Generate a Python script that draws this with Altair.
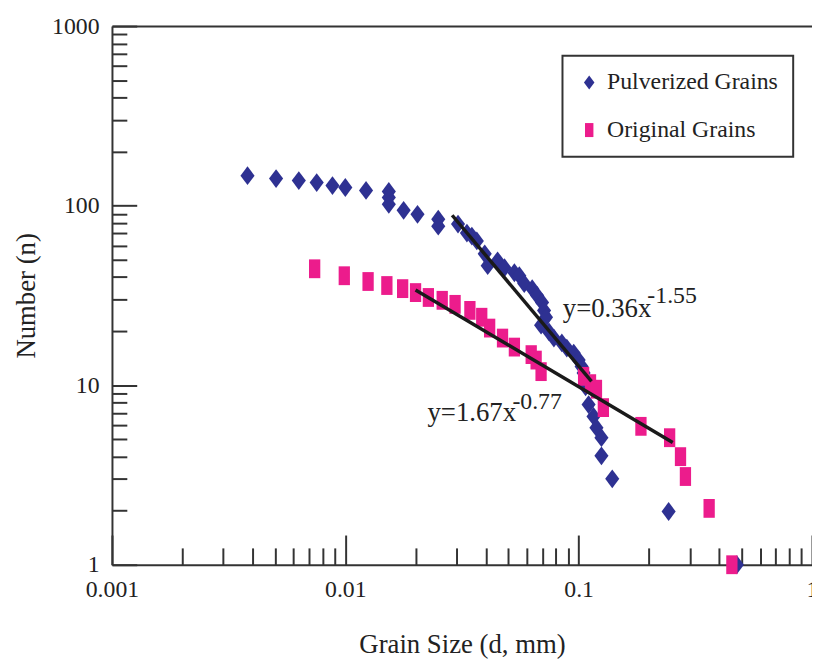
import altair as alt
import pandas as pd

FONT = "Liberation Serif"
BLUE = "#2e3192"
PINK = "#ec1c8c"
INK = "#222222"
AXIS = "#333333"

series_names = ["Pulverized Grains", "Original Grains"]

# Pulverized grains (blue diamonds): grain size d (mm), number n
blue_x = [0.00381, 0.00505, 0.00632, 0.00754, 0.00881, 0.0100, 0.01227, 0.01536,
          0.01536, 0.01536, 0.01778, 0.02039, 0.02502, 0.02502, 0.03041, 0.03320,
          0.03486, 0.03661, 0.03958, 0.04076, 0.04493, 0.04812, 0.05304, 0.05569,
          0.05846, 0.06322, 0.06637, 0.06969, 0.07107, 0.07247, 0.06902, 0.07462,
          0.07834, 0.08472, 0.08896, 0.09524, 0.1000, 0.1030, 0.1050, 0.1071,
          0.1103, 0.1158, 0.1192, 0.1252, 0.1252, 0.1393, 0.2430, 0.4764]
blue_y = [146.9, 141.5, 137.9, 134.4, 129.4, 126.2, 121.5, 119.9,
          111.1, 101.7, 94.2, 89.5, 84.0, 76.9, 78.9, 70.3,
          67.7, 63.6, 53.9, 46.3, 49.3, 45.1, 42.3, 40.7,
          36.8, 34.5, 31.6, 28.9, 26.1, 23.9, 21.6, 19.8,
          18.3, 17.2, 16.1, 15.1, 13.8, 12.7, 11.7, 9.8,
          7.8, 6.7, 5.8, 5.1, 4.04, 3.01, 1.98, 1.0]

# Original grains (pink squares)
pink_x = [0.00739, 0.00990, 0.01252, 0.01507, 0.01761, 0.0200, 0.0227, 0.02602,
          0.02954, 0.03419, 0.03843, 0.04155, 0.04718, 0.05304, 0.06261, 0.06573,
          0.06902, 0.1050, 0.1124, 0.1192, 0.1276, 0.1849, 0.2454, 0.2732,
          0.2868, 0.3624, 0.4536]
pink_y = [44.5, 40.7, 37.8, 35.9, 34.5, 32.8, 30.8, 29.7,
          28.2, 26.1, 23.9, 20.8, 18.3, 16.3, 14.8, 13.8,
          11.9, 11.2, 10.2, 9.5, 7.5, 5.9, 5.1, 4.0,
          3.1, 2.06, 1.0]

# Power-law fit lines (end points)
fit_names = ["blue", "blue", "pink", "pink"]
fit_x = [0.0287, 0.1135, 0.0200, 0.253]
fit_y = [88.4, 10.5, 33.9, 4.8]

# Equation annotations
ann_text = ["y=0.36x", "y=1.67x"]
ann_x = [0.0855, 0.0225]
ann_y = [23.9, 6.31]
sup_text = ["-1.55", "-0.77"]
sup_x = [0.197, 0.0520]
sup_y = [28.6, 7.34]

# Axis tick values
x_major = [0.001, 0.01, 0.1, 1]
x_minor = [0.002, 0.003, 0.004, 0.005, 0.006, 0.007, 0.008, 0.009,
           0.02, 0.03, 0.04, 0.05, 0.06, 0.07, 0.08, 0.09,
           0.2, 0.3, 0.4, 0.5, 0.6, 0.7, 0.8, 0.9]
y_major = [1, 10, 100, 1000]
y_minor = [2, 3, 4, 5, 6, 7, 8, 9,
           20, 30, 40, 50, 60, 70, 80, 90,
           200, 300, 400, 500, 600, 700, 800, 900]

W, H = 707, 544

pts = pd.DataFrame({
    "x": blue_x + pink_x,
    "y": blue_y + pink_y,
    "series": [series_names[0]] * len(blue_x) + [series_names[1]] * len(pink_x),
})
fits = pd.DataFrame({"x": fit_x, "y": fit_y, "fit": fit_names})
ann = pd.DataFrame({"x": ann_x, "y": ann_y, "t": ann_text})
sup = pd.DataFrame({"x": sup_x, "y": sup_y, "t": sup_text})

xs = alt.Scale(type="log", domain=[0.001, 1], nice=False)
ys = alt.Scale(type="log", domain=[1, 1000], nice=False)

DIAMOND = "M0,-1L0.75,0L0,1L-0.75,0Z"
RECT = "M-0.6,-1L0.6,-1L0.6,1L-0.6,1Z"

legend = alt.Legend(
    title=None, orient="none", legendX=455, legendY=30,
    labelFont=FONT, labelFontSize=24, labelColor=INK, labelLimit=400,
    padding=15, rowPadding=24, strokeColor=AXIS, fillColor="white",
    symbolSize=200, symbolStrokeWidth=0, labelOffset=6,
)

points = alt.Chart(pts).mark_point(filled=True, opacity=1, strokeWidth=0, size=361).encode(
    x=alt.X("x:Q", scale=xs, axis=alt.Axis(
        orient="bottom", values=x_major, format="~g", ticks=False, tickSize=0,
        domain=True, domainColor=AXIS, domainWidth=2, grid=False,
        labelFont=FONT, labelFontSize=24, labelColor=INK, labelPadding=13,
        labelFlush=False, labelOverlap=False,
        title="Grain Size (d, mm)", titleFont=FONT, titleFontSize=27,
        titleFontWeight="normal", titleColor=INK, titlePadding=31)),
    y=alt.Y("y:Q", scale=ys, axis=alt.Axis(
        orient="left", values=y_major, format="~g", ticks=False, tickSize=0,
        domain=True, domainColor=AXIS, domainWidth=2, grid=False,
        labelFont=FONT, labelFontSize=24, labelColor=INK, labelPadding=13,
        labelFlush=False, labelOverlap=False,
        title="Number (n)", titleFont=FONT, titleFontSize=27,
        titleFontWeight="normal", titleColor=INK, titlePadding=11)),
    color=alt.Color("series:N", scale=alt.Scale(domain=series_names, range=[BLUE, PINK]), legend=legend),
    shape=alt.Shape("series:N", scale=alt.Scale(domain=series_names, range=[DIAMOND, RECT]), legend=legend),
)

lines = alt.Chart(fits).mark_line(color="#1a1a1a", strokeWidth=3.5).encode(
    x=alt.X("x:Q", scale=xs, axis=alt.Axis(
        orient="top", offset=-H, values=x_major, ticks=True, tickSize=30,
        tickWidth=2, tickColor=AXIS, labels=False, domain=False, grid=False, title=None)),
    y=alt.Y("y:Q", scale=ys, axis=alt.Axis(
        orient="right", offset=-W, values=y_major, ticks=True, tickSize=25,
        tickWidth=2, tickColor=AXIS, labels=False, domain=False, grid=False, title=None)),
    detail="fit:N",
)

ann_layer = alt.Chart(ann).mark_text(
    align="left", baseline="alphabetic", font=FONT, fontSize=27, color=INK
).encode(
    x=alt.X("x:Q", scale=xs, axis=alt.Axis(
        orient="top", offset=-H, values=x_minor, ticks=True, tickSize=17,
        tickWidth=2, tickColor=AXIS, labels=False, domain=False, grid=False, title=None)),
    y=alt.Y("y:Q", scale=ys, axis=alt.Axis(
        orient="right", offset=-W, values=y_minor, ticks=True, tickSize=15,
        tickWidth=2, tickColor=AXIS, labels=False, domain=False, grid=False, title=None)),
    text="t:N",
)

sup_layer = alt.Chart(sup).mark_text(
    align="left", baseline="alphabetic", font=FONT, fontSize=24, color=INK
).encode(
    x=alt.X("x:Q", scale=xs, axis=alt.Axis(
        orient="top", offset=0, ticks=False, labels=False, domain=True,
        domainColor=AXIS, domainWidth=2, grid=False, title=None)),
    y=alt.Y("y:Q", scale=ys, axis=None),
    text="t:N",
)

chart = alt.layer(points, lines, ann_layer, sup_layer).resolve_axis(
    x="independent", y="independent"
).properties(
    width=W, height=H,
    autosize=alt.AutoSizeParams(type="none"),
    padding={"left": 105, "top": 15, "right": 0, "bottom": 100},
    background="white",
).configure_view(strokeWidth=0).configure_legend(strokeWidth=2)

chart.save("out.html", embed_options={"renderer": "svg", "actions": False})
